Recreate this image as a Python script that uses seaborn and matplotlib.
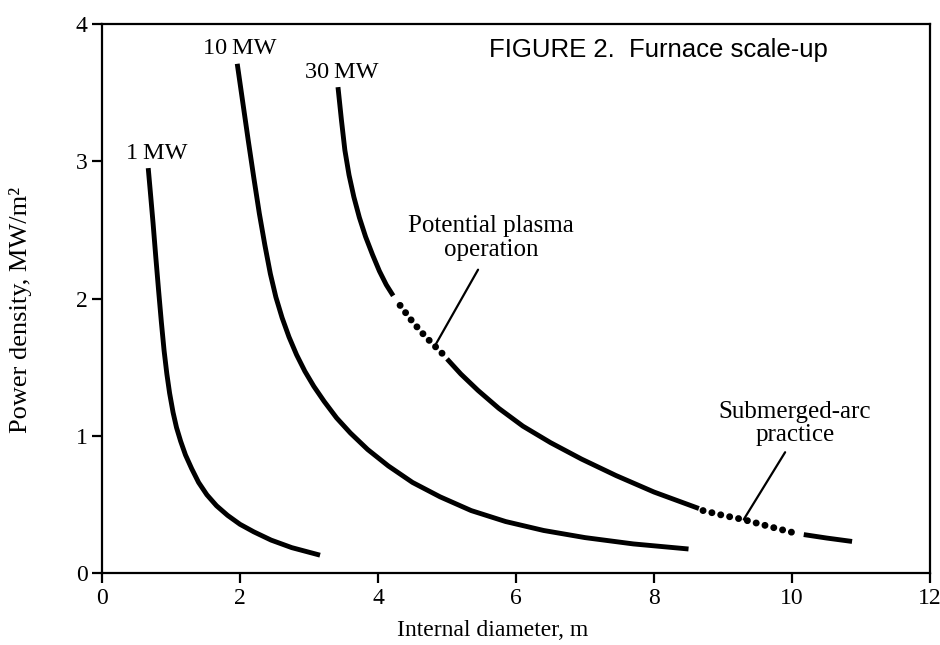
import matplotlib
matplotlib.use("Agg")
from matplotlib import pyplot as plt
import seaborn as sns
import pandas as pd

# Furnace scale-up: power density (MW/m2) vs internal diameter (m)
mw1_d = [0.67, 0.70, 0.74, 0.78, 0.82, 0.86, 0.90, 0.94, 0.98, 1.03, 1.08, 1.14,
         1.21, 1.30, 1.40, 1.52, 1.66, 1.82, 2.00, 2.20, 2.45, 2.75, 3.16]
mw1_p = [2.95, 2.78, 2.55, 2.30, 2.06, 1.83, 1.62, 1.45, 1.31, 1.17, 1.06, 0.96,
         0.86, 0.76, 0.66, 0.57, 0.49, 0.42, 0.355, 0.30, 0.24, 0.185, 0.13]

mw10_d = [1.96, 2.04, 2.12, 2.20, 2.28, 2.36, 2.44, 2.52, 2.61, 2.71, 2.82, 2.94, 3.07,
          3.22, 3.40, 3.60, 3.85, 4.15, 4.50, 4.90, 5.35, 5.85, 6.40, 7.00, 7.70, 8.50]
mw10_p = [3.71, 3.43, 3.15, 2.88, 2.62, 2.39, 2.18, 2.01, 1.86, 1.72, 1.59, 1.47, 1.36,
          1.25, 1.13, 1.02, 0.90, 0.78, 0.66, 0.555, 0.455, 0.375, 0.31, 0.258, 0.212, 0.175]

mw30_d = [3.42, 3.47, 3.52, 3.58, 3.65, 3.73, 3.82, 3.92, 4.02, 4.12, 4.22,
          4.32, 4.47, 4.62, 4.77, 4.93,
          5.00, 5.20, 5.45, 5.75, 6.10, 6.50, 6.95, 7.45, 8.00, 8.65,
          8.71, 9.00, 9.29, 9.70, 10.09,
          10.17, 10.50, 10.87]
mw30_p = [3.54, 3.30, 3.08, 2.90, 2.74, 2.59, 2.45, 2.32, 2.20, 2.10, 2.02,
          1.95, 1.85, 1.76, 1.68, 1.60,
          1.56, 1.45, 1.33, 1.20, 1.07, 0.95, 0.83, 0.71, 0.59, 0.47,
          0.455, 0.42, 0.39, 0.335, 0.285,
          0.28, 0.255, 0.23]
mw30_regime = [""] * 11 + ["plasma"] * 5 + [""] * 10 + ["submerged"] * 5 + [""] * 3

curve_labels = ["1\u2009MW", "10\u2009MW", "30\u2009MW"]
x_ticks = [0, 2, 4, 6, 8, 10, 12]
y_ticks = [0, 1, 2, 3, 4]

sns.set_theme(style="ticks")
plt.rcParams['font.family'] = ['Liberation Serif', 'DejaVu Serif']
plt.rcParams['text.color'] = 'black'
plt.rcParams['axes.labelcolor'] = 'black'

fig = plt.figure(figsize=(9.4, 6.45), dpi=100)
ax = fig.add_axes([0.1085, 0.1116, 0.8809, 0.8512])

solid_kw = dict(color='black', lw=3.5, solid_capstyle='butt', solid_joinstyle='round')
dot_kw = dict(color='black', lw=5.0, linestyle=(0, (0.01, 1.3)), dash_capstyle='round')

for d, p in [(mw1_d, mw1_p), (mw10_d, mw10_p)]:
    sns.lineplot(x=d, y=p, ax=ax, sort=False, estimator=None, **solid_kw)

# 30 MW curve split into consecutive regime runs
df30 = pd.DataFrame({'d': mw30_d, 'p': mw30_p, 'regime': mw30_regime})
df30['run'] = (df30['regime'] != df30['regime'].shift()).cumsum()
for _, seg in df30.groupby('run'):
    kw = dot_kw if seg['regime'].iloc[0] else solid_kw
    sns.lineplot(data=seg, x='d', y='p', ax=ax, sort=False, estimator=None, **kw)

# curve labels
label_pos = [(0.8, 3.06), (2.0, 3.82), (3.48, 3.65)]
for lab, (x, y) in zip(curve_labels, label_pos):
    ax.text(x, y, lab, ha='center', va='center', fontsize=17.5)

ax.text(8.06, 3.81, "FIGURE 2.  Furnace scale-up", ha='center', va='center',
        fontsize=18.5, family=['Liberation Sans', 'DejaVu Sans'])

ax.text(5.64, 2.44, "Potential plasma\noperation", ha='center', va='center',
        fontsize=18, linespacing=1.1)
ax.annotate("", xy=(4.83, 1.66), xytext=(5.45, 2.21),
            arrowprops=dict(arrowstyle='-', lw=1.6, color='black', shrinkA=0, shrinkB=0))

ax.text(10.04, 1.09, "Submerged-arc\npractice", ha='center', va='center',
        fontsize=18, linespacing=1.1)
ax.annotate("", xy=(9.3, 0.39), xytext=(9.9, 0.88),
            arrowprops=dict(arrowstyle='-', lw=1.6, color='black', shrinkA=0, shrinkB=0))

ax.set_xlim(0, 12)
ax.set_ylim(0, 4)
ax.set_xticks(x_ticks)
ax.set_yticks(y_ticks)
ax.tick_params(axis='both', direction='out', length=7, width=1.6, labelsize=17,
               colors='black', top=False, right=False)
for s in ax.spines.values():
    s.set_visible(True)
    s.set_linewidth(1.6)
    s.set_color('black')

ax.set_xlabel("Internal diameter, m", fontsize=17)
ax.set_ylabel("Power density, MW/m²", fontsize=19)
ax.xaxis.set_label_coords(0.472, -0.085)
ax.yaxis.set_label_coords(-0.085, 0.479)

fig.savefig("out.png", dpi=100, facecolor='white')
